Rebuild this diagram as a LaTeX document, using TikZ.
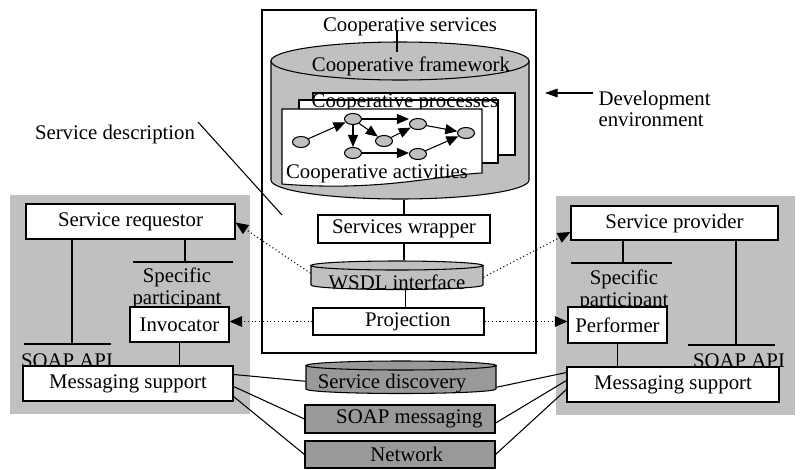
\documentclass[tikz,border=0pt]{standalone}
\usepackage{fontspec}
\setmainfont{Liberation Serif}
\usetikzlibrary{arrows.meta,fit,shapes.geometric,calc}
\definecolor{panelgray}{HTML}{C0C0C0}
\definecolor{cylgray}{HTML}{C0C0C0}
\definecolor{darkbox}{HTML}{999999}

% cylinder: left x, right x, top centre y, bottom centre y, y radius, fill colour
\newcommand{\drawcyl}[6]{%
  \pgfmathsetmacro{\cylc}{(#1+#2)/2}%
  \pgfmathsetmacro{\cylr}{(#2-#1)/2}%
  \filldraw[fill=#6] (#1,#3) -- (#1,#4)
    arc[start angle=180, end angle=0, x radius=\cylr, y radius=#5] -- (#2,#3) -- cycle;
  \filldraw[fill=#6] (\cylc,#3) ellipse[x radius=\cylr, y radius=#5];
}

\begin{document}
\begin{tikzpicture}[x=0.75pt,y=-0.75pt,
  font=\fontsize{15.6pt}{18pt}\selectfont, line width=0.8pt,
  box/.style={draw, fill=white, inner sep=0pt},
  dbox/.style={draw, fill=darkbox, inner sep=0pt},
  panel/.style={fill=panelgray, inner sep=0pt},
  area/.style={inner sep=0pt},
  txt/.style={label={[inner sep=0pt]center:#1}},
  gnode/.style={ellipse, draw, fill=cylgray, minimum width=12.75pt, minimum height=8.25pt, inner sep=0pt},
  flow/.style={-{Triangle[length=9pt,width=7.5pt]}},
  link/.style={dotted, line width=0.8pt, draw=black, -{Triangle[length=9.5pt,width=8pt]}},
  pointer/.style={-{Triangle[length=9.5pt,width=6.5pt]}},
  lbl/.style={inner sep=0pt, anchor=base}]
\useasboundingbox (0,0) rectangle (800,469);

% side panels
\node[panel, fit={(10,195) (250,414)}] (lpanel) {};
\node[panel, fit={(556,196) (795,415)}] (rpanel) {};

% cooperative services container
\node[box, fit={(262,10) (536,353)}] (coop) {};

% cooperative framework cylinder
\drawcyl{271}{529}{61}{180}{19}{cylgray}
\node[area, fit={(271,42) (529,199)}] (fw) {};
\node[lbl] (svc) at (410,31) {Cooperative services};
\coordinate (svcdrop) at (397,52);
\draw (svc.base -| svcdrop) -- (svcdrop);
\node[lbl] (fwtxt) at (411,71) {Cooperative framework};

% stacked process pages
\filldraw[fill=white] (313,93) rectangle (515,155);
\fill[white] (299,100) rectangle (498,163);
\node[lbl] (proc) at (405,107) {Cooperative processes};
\draw (299,100) rectangle (498,163);
\filldraw[fill=white] (282,109) -- (482,109) -- (482,173)
  .. controls (440,175) and (380,192) .. (282,184) -- cycle;
\node[lbl] (act) at (377,178) {Cooperative activities};

% activity graph
\node[gnode] (g1) at (301,142) {};
\node[gnode] (g2) at (353,119) {};
\node[gnode] (g3) at (353,153) {};
\node[gnode] (g4) at (384,141) {};
\node[gnode] (g5) at (418,124) {};
\node[gnode] (g6) at (418,154) {};
\node[gnode] (g7) at (466,133) {};
\draw[flow] (g1) -- (g2);
\draw[flow] (g2) -- (g3);
\draw[flow] (g2) -- (g4);
\draw[flow] (g2.east) -- (g2.east -| g5.west);
\draw[flow] (g4) -- (g5);
\draw[flow] (g5) -- (g7);
\draw[flow] (g3.east) -- (g3.east -| g6.west);
\draw[flow] (g6) -- (g7);

% wrapper, interface and projection
\node[box, fit={(318,215) (490,243)}, txt={Services wrapper}] (wrap) {};
\draw (wrap.north) -- (wrap.north |- fw.south);
\drawcyl{311}{483}{265.5}{285}{4.5}{cylgray}
\node[area, fit={(311,261) (483,289.5)}] (wsdl) {};
\node[lbl] (wsdltxt) at (397,289) {WSDL interface};
\draw (wrap.south) -- (wrap.south |- wsdl.north);
\node[box, fit={(313,308) (484,335)}, label={[inner sep=0pt, xshift=7pt]center:Projection}] (proj) {};
\draw ($(proj.north)+(7,0)$) -- ($(proj.north |- wsdl.south)+(7,0)$);

% infrastructure
\drawcyl{306}{496}{365.5}{389}{4.5}{darkbox}
\node[area, fit={(306,361) (496,393.5)}] (sd) {};
\node[lbl] (sdtxt) at (392,388) {Service discovery};
\node[dbox, fit={(305,405) (495,433)}, label={[inner sep=0pt, xshift=7pt]center:SOAP messaging}] (soapm) {};
\node[dbox, fit={(305,441) (495,468)}, label={[inner sep=0pt, xshift=5pt]center:Network}] (net) {};

% requestor side
\node[box, fit={(26,204) (235,239)}, txt={Service requestor}] (req) {};
\coordinate (lapiL) at (24,344);
\coordinate (lapiR) at (111,344);
\coordinate (lapiM) at (72,344);
\draw (lapiL) -- (lapiR);
\draw (req.south -| lapiM) -- (lapiM);
\coordinate (lspL) at (133,262);
\coordinate (lspR) at (233,262);
\coordinate (lspM) at (185,262);
\draw (lspL) -- (lspR);
\draw (req.south -| lspM) -- (lspM);
\node[lbl] (lsp1) at (177,282) {Specific};
\node[lbl] (lsp2) at (177,304) {participant};
\node[lbl] (lapi) at (67,367) {SOAP API};
\node[box, fit={(130,307) (229,342)}, txt={Invocator}] (inv) {};
\node[box, fit={(23,366) (233,401)}, txt={Messaging support}] (lms) {};
\draw (inv.south) -- (inv.south |- lms.north);

% provider side
\node[box, fit={(571,206) (778,240)}, txt={Service provider}] (prov) {};
\coordinate (rspL) at (571,263);
\coordinate (rspR) at (672,263);
\coordinate (rspM) at (623,263);
\draw (rspL) -- (rspR);
\draw (prov.south -| rspM) -- (rspM);
\coordinate (rapiL) at (688,345);
\coordinate (rapiR) at (775,345);
\coordinate (rapiM) at (736,345);
\draw (rapiL) -- (rapiR);
\draw (prov.south -| rapiM) -- (rapiM);
\node[lbl] (rsp1) at (624,284) {Specific};
\node[lbl] (rsp2) at (624,306) {participant};
\node[lbl] (rapi) at (739,367) {SOAP API};
\node[box, fit={(568,307) (667,343)}, txt={Performer}] (perf) {};
\node[box, fit={(567,367) (779,402)}, txt={Messaging support}] (rms) {};
\draw (perf.south) -- (perf.south |- rms.north);

% messaging links
\draw ($(lms.north east)+(0,9)$) -- ($(sd.west)+(0,4)$);
\draw ($(lms.north east)+(0,21)$) -- (soapm.west);
\draw ($(lms.north east)+(0,31)$) -- (net.west);
\draw ($(sd.east)+(0,10)$) -- ($(rms.north west)+(0,6)$);
\draw ($(soapm.east)+(0,4)$) -- ($(rms.north west)+(0,14)$);
\draw (net.east) -- ($(rms.north west)+(0,23)$);

% description links
\draw[link] ($(wsdl.west)+(0,-2)$) -- ($(req.east)+(0,1)$);
\draw[link] ($(wsdl.east)+(0,2)$) -- ($(prov.west)+(0,9)$);
\draw[link] (proj.west) -- (proj.west -| inv.east);
\draw[link] (proj.east) -- (proj.east -| perf.west);

% annotations
\node[lbl] (sdesc) at (115,139) {Service description};
\coordinate (sdescA) at (198,122);
\coordinate (sdescB) at (282,215);
\draw (sdescA) -- (sdescB);
\node[lbl, anchor=base west] (dev1) at (598,105) {Development};
\node[lbl, anchor=base west] (dev2) at (598,126) {environment};
\coordinate (devA) at (593,93);
\coordinate (devB) at (545,93);
\draw[pointer] (devA) -- (devB);
\end{tikzpicture}
\end{document}
